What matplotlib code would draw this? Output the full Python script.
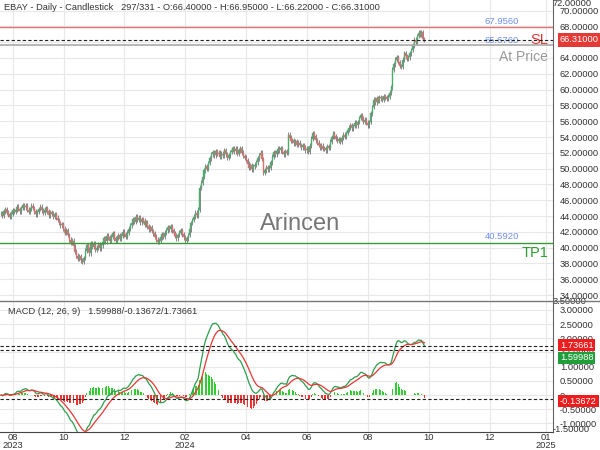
import matplotlib
matplotlib.use('Agg')
import matplotlib.pyplot as plt
import matplotlib.transforms as mtransforms
import pandas as pd

plt.rcParams['font.family'] = ['Liberation Sans', 'DejaVu Sans']

# daily closes, EBAY, late Jul 2023 -> late Sep 2024
closes = [
    44.3, 44.0, 44.6, 44.9, 44.4, 44.2, 43.9, 44.3, 44.7, 44.5,
    44.8, 45.2, 44.9, 44.6, 45.0, 45.4, 45.1, 45.3, 44.8, 44.5,
    44.9, 45.3, 45.0, 44.6, 44.2, 44.5, 44.9, 45.2, 44.7, 44.4,
    44.8, 45.0, 44.6, 44.1, 44.5, 44.3, 43.9, 44.2, 43.8, 43.5,
    43.1, 42.8, 43.0, 42.4, 41.9, 42.2, 41.6, 41.0, 40.6, 40.9,
    40.2, 39.5, 39.0, 38.6, 38.9, 38.4, 38.2, 38.7, 39.6, 40.3,
    39.8, 39.3, 40.6, 40.1, 40.5, 39.7, 40.0, 40.4, 39.9, 40.3,
    40.7, 41.2, 40.8, 41.5, 41.3, 40.9, 41.4, 41.8, 41.2, 40.9,
    41.3, 41.6, 41.1, 41.5, 42.0, 41.7, 41.4, 41.9, 42.4, 42.8,
    43.1, 43.6, 43.3, 43.9, 43.5, 43.8, 43.2, 43.6, 43.4, 42.9,
    43.2, 42.7, 42.3, 42.6, 42.1, 41.8, 41.4, 41.0, 40.7, 40.9,
    41.3, 41.7, 41.4, 41.9, 42.2, 42.6, 42.3, 42.7, 42.2, 41.8,
    41.5, 41.2, 41.6, 41.9, 42.2, 41.7, 41.3, 40.9, 41.2, 41.6,
    42.3, 43.1, 43.5, 43.9, 44.4, 44.1, 44.8, 47.6, 48.2, 49.0,
    49.8, 50.3, 50.0, 50.7, 51.3, 51.8, 52.1, 51.7, 52.2, 51.9,
    52.0, 51.5, 51.9, 51.7, 52.3, 51.8, 51.4, 51.7, 52.1, 52.4,
    52.6, 52.2, 52.5, 51.9, 52.3, 52.6, 52.0, 51.6, 51.4, 51.1,
    50.6, 50.1, 50.4, 49.9, 50.3, 50.5, 50.8, 51.3, 51.7, 52.0,
    51.2, 49.5, 49.8, 50.2, 49.9, 50.1, 50.8, 51.5, 52.1, 51.8,
    52.2, 52.5, 52.3, 52.6, 52.1, 51.8, 52.2, 52.0, 54.3, 53.9,
    53.5, 53.6, 53.2, 53.5, 53.0, 53.3, 53.0, 52.7, 53.0, 52.7,
    52.3, 52.5, 52.1, 52.9, 53.8, 54.5, 54.1, 53.6, 53.3, 53.0,
    52.7, 52.9, 52.5, 52.6, 52.3, 52.8, 52.6, 53.4, 54.0, 54.5,
    54.1, 53.8, 53.5, 53.7, 53.4, 53.9, 54.3, 54.0, 54.5, 54.9,
    55.2, 55.5, 55.1, 55.4, 55.8, 55.5, 55.9, 56.4, 56.8, 56.3,
    55.9, 56.2, 55.8, 55.5, 55.9, 57.0, 57.8, 58.7, 58.4, 58.9,
    58.6, 59.0, 58.9, 58.7, 59.2, 59.0, 58.8, 59.1, 59.6, 60.3,
    62.5, 63.2, 63.8, 64.1, 63.5, 63.0, 62.9, 63.8, 64.6, 64.2,
    63.9, 64.1, 64.6, 65.0, 65.6, 66.3, 66.0, 66.8, 67.2, 66.9,
    67.3, 66.4, 66.31,
]

price_ticks = [34, 36, 38, 40, 42, 44, 46, 48, 50, 52, 54, 56, 58, 60, 62, 64, 66, 68, 70]
macd_ticks = [-1.0, -0.5, 0.0, 0.5, 1.0, 1.5, 2.0, 2.5, 3.0]
month_pos = [8, 43.4, 84.8, 126.9, 169, 211, 253, 295, 337, 376]
month_labels = ['08\n2023', '10', '12', '02\n2024', '04', '06', '08', '10', '12', '01\n2025']

sl_level = 67.956
entry_level = 65.676
tp1_level = 40.592
last_close = 66.31
macd_last = 1.59988
hist_last = -0.13672
signal_last = 1.73661

title = 'EBAY - Daily - Candlestick   297/331 - O:66.40000 - H:66.95000 - L:66.22000 - C:66.31000'

up_col = '#4cae6e'
dn_col = '#e07070'
grid_col = '#e8e8e8'
lbl_size = 6.7

fig = plt.figure(figsize=(6, 4.5), dpi=100)
ax = fig.add_axes([0, 1 - 300 / 450, 553 / 600, 300 / 450])
ax2 = fig.add_axes([0, 1 - 432 / 450, 553 / 600, 131 / 450], sharex=ax)

s = pd.Series(closes)
opens = s.shift(1).fillna(s.iloc[0])
xs = list(range(len(closes)))

# candles
for i in xs:
    o = opens[i]
    c = closes[i]
    col = up_col if c >= o else dn_col
    lo = min(o, c)
    hi = max(o, c)
    ax.vlines(i, lo - 0.3, hi + 0.3, color='#555555', lw=0.5, zorder=2)
    ax.bar(i, max(hi - lo, 0.08), bottom=lo, width=0.7, color=col,
           edgecolor=col, lw=0.3, zorder=3)

ax.set_ylim(33.37, 71.34)
ax.set_xlim(-0.7, 380.7)
ax.set_yticks(price_ticks)
ax.set_yticklabels(['%.5f' % t for t in price_ticks])
ax.yaxis.tick_right()
ax.tick_params(axis='y', length=0, pad=5, labelsize=lbl_size, colors='#333333')
ax.tick_params(axis='x', length=0, labelbottom=False)
ax.set_xticks(month_pos)
ax.grid(True, color=grid_col, lw=0.8, zorder=0)
for sp in ['top', 'left', 'bottom']:
    ax.spines[sp].set_visible(False)
ax.spines['right'].set_color('#666666')
ax.text(1.0, 1 - 3 / 300, '72.00000', transform=ax.transAxes, ha='left', va='center',
        fontsize=lbl_size, color='#333333', clip_on=False)

# trade levels
ax.axhline(sl_level, color='#e57373', lw=1.0, zorder=4)
ax.axhline(entry_level, color='#aaaaaa', lw=1.2, zorder=4)
ax.axhline(last_close, color='#222222', lw=0.8, ls=(0, (3, 2)), zorder=5)
ax.axhline(tp1_level, color='#3a9a3a', lw=1.0, zorder=4)

bt = mtransforms.blended_transform_factory(fig.transFigure, ax.transData)
ax.annotate('%.4f' % sl_level, (519 / 600, sl_level), xycoords=bt, xytext=(0, 3.6),
            textcoords='offset points', ha='right', va='center', fontsize=6.8, color='#6f8ff0')
ax.annotate('SL', (548 / 600, sl_level), xycoords=bt, xytext=(0, -9.4),
            textcoords='offset points', ha='right', va='center', fontsize=10.5, color='#e53935')
ax.annotate('%.4f' % entry_level, (519 / 600, entry_level), xycoords=bt, xytext=(0, 3),
            textcoords='offset points', ha='right', va='center', fontsize=6.8, color='#6f8ff0')
ax.annotate('At Price', (548 / 600, entry_level), xycoords=bt, xytext=(0, -8.6),
            textcoords='offset points', ha='right', va='center', fontsize=10, color='#999999')
ax.annotate('%.4f' % tp1_level, (519 / 600, tp1_level), xycoords=bt, xytext=(0, 4.3),
            textcoords='offset points', ha='right', va='center', fontsize=6.8, color='#6f8ff0')
ax.annotate('TP1', (548 / 600, tp1_level), xycoords=bt, xytext=(0, -7.2),
            textcoords='offset points', ha='right', va='center', fontsize=10.5, color='#2e9e2e')

ax.annotate('%.5f' % last_close, (1.0, last_close), xycoords=('axes fraction', 'data'),
            xytext=(5, 0), textcoords='offset points', ha='left', va='center',
            fontsize=lbl_size, color='white', annotation_clip=False,
            bbox=dict(boxstyle='square,pad=0.25', fc='#e53935', ec='none'))

# MACD (12, 26, 9)
ema12 = s.ewm(span=12, adjust=False).mean()
ema26 = s.ewm(span=26, adjust=False).mean()
macd = ema12 - ema26
signal = macd.ewm(span=9, adjust=False).mean()
hist = macd - signal

hcols = ['#33cc33' if h >= 0 else '#ee3333' for h in hist]
ax2.bar(xs, hist, width=0.6, color=hcols, zorder=2)
ax2.plot(xs, macd, color='#2e9e4e', lw=0.9, zorder=3)
ax2.plot(xs, signal, color='#e53935', lw=0.9, zorder=3)

for lv in [signal_last, macd_last, hist_last]:
    ax2.axhline(lv, color='#222222', lw=0.8, ls=(0, (3, 2)), zorder=4)

ax2.set_ylim(-1.30, 3.31)
ax2.set_yticks(macd_ticks)
ax2.set_yticklabels(['0' if t == 0 else '%.5f' % t for t in macd_ticks])
ax2.yaxis.tick_right()
ax2.tick_params(axis='y', length=0, pad=5, labelsize=lbl_size, colors='#333333')
ax2.set_xticks(month_pos)
ax2.set_xticklabels(month_labels)
ax2.tick_params(axis='x', length=0, pad=1, labelsize=lbl_size, colors='#333333')
for lab in ax2.get_xticklabels():
    lab.set_linespacing(0.8)
ax2.grid(True, color=grid_col, lw=0.8, zorder=0)
for sp in ['top', 'left']:
    ax2.spines[sp].set_visible(False)
ax2.spines['right'].set_color('#666666')
ax2.spines['bottom'].set_color('#444444')
ax2.text(1.0, 1.0, '3.50000', transform=ax2.transAxes, ha='left', va='center',
         fontsize=lbl_size, color='#333333', clip_on=False)
ax2.text(1.0, 0.02, '-1.50000', transform=ax2.transAxes, ha='left', va='center',
         fontsize=lbl_size, color='#333333', clip_on=False)

box_specs = [(signal_last, 0.5, '#ee1c1c'), (macd_last, -6, '#1f9e3a'), (hist_last, -1.5, '#ee1c1c')]
for val, dy, fc in box_specs:
    ax2.annotate('%.5f' % val, (1.0, val), xycoords=('axes fraction', 'data'),
                 xytext=(5, dy), textcoords='offset points', ha='left', va='center',
                 fontsize=lbl_size, color='white', annotation_clip=False,
                 bbox=dict(boxstyle='square,pad=0.2', fc=fc, ec='none'))

# separator between panels
fig.add_artist(plt.Line2D([0, 1], [1 - 300.5 / 450] * 2, color='#777777', lw=1.0,
                          transform=fig.transFigure))

fig.text(4 / 600, 1 - 8 / 450, title, fontsize=lbl_size, color='#333333', va='center')
fig.text(8 / 600, 1 - 311 / 450, 'MACD (12, 26, 9)   %.5f/%.5f/%.5f' % (macd_last, hist_last, signal_last),
         fontsize=lbl_size, color='#333333', va='center')
fig.text(300 / 600, 1 - 224 / 450, 'Arincen', fontsize=17, color='#777777',
         ha='center', va='center')

fig.savefig('out.png', dpi=100, facecolor='white')
